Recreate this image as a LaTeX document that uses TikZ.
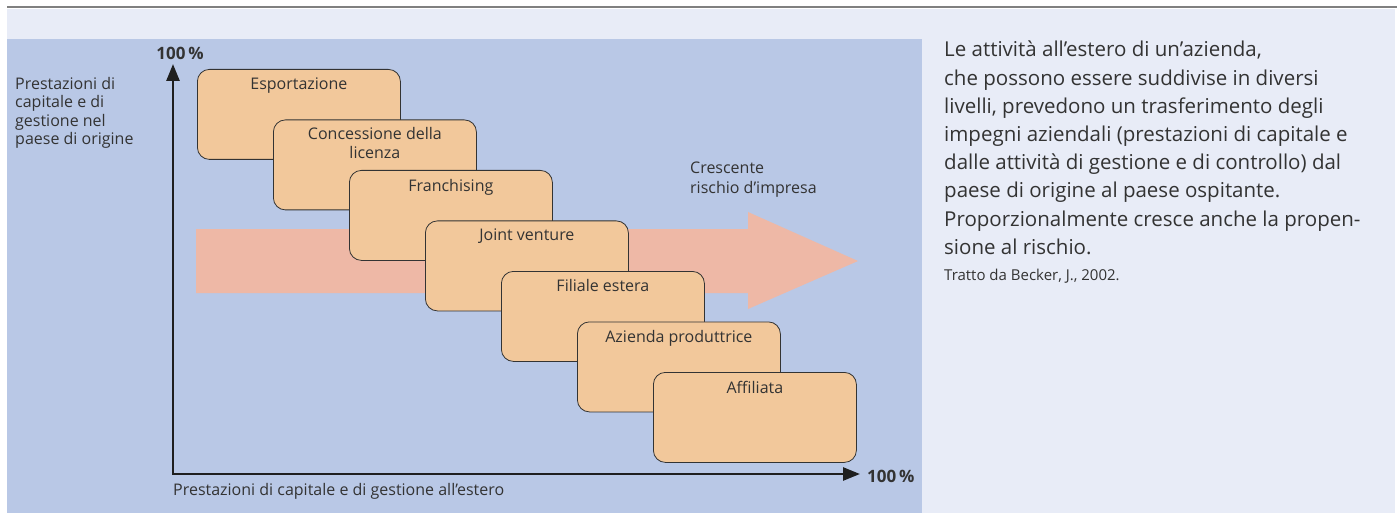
\documentclass[tikz,border=0pt]{standalone}
\usepackage{fontspec}
\setmainfont{Open Sans}
\usetikzlibrary{arrows.meta}

\definecolor{band_blue}{HTML}{E8ECF7}
\definecolor{panel_blue}{HTML}{B9C8E6}
\definecolor{box_fill}{HTML}{F2C89B}
\definecolor{risk_pink}{HTML}{EEB8A6}
\definecolor{text_gray}{HTML}{333333}

\begin{document}
\begin{tikzpicture}[
  x=1pt, y=-1pt,
  stage_box/.style={draw=text_gray, line width=0.8pt, fill=box_fill, rounded corners=12pt, minimum width=203pt, minimum height=90pt, inner sep=0pt, anchor=north west},
  stage_text/.style={text=text_gray, font=\fontsize{16}{19}\selectfont, align=center, inner sep=0pt, anchor=north},
  axis_line/.style={line width=2.6pt, draw=black!88, {Triangle[length=17pt,width=13pt]}-{Triangle[length=17pt,width=13pt]}},
  axis_mark/.style={text=text_gray, font=\bfseries\fontsize{17}{19}\selectfont, inner sep=0pt},
  side_text/.style={text=text_gray, font=\fontsize{16}{18.5}\selectfont, align=left, inner sep=0pt},
  desc_text/.style={text=text_gray, font=\fontsize{20.5}{28.2}\selectfont, align=left, inner sep=0pt},
]
\useasboundingbox (0,0) rectangle (1397,513);
% background
\fill[band_blue] (7,9) rectangle (1395,513);
\fill[panel_blue] (7,39) rectangle (922,513);
\draw[gray, line width=1.5pt] (7,7) -- (1397,7);

% risk arrow
\fill[risk_pink] (196,229) -- (748,229) -- (748,212) -- (858,261) -- (748,309) -- (748,293) -- (196,293) -- cycle;

% axes
\coordinate (origin) at (173,474);
\coordinate (y_end) at (173,64);
\coordinate (x_end) at (860,474);
\draw[axis_line] (y_end) -- (origin) -- (x_end);
\draw (180,60) node (y_max) [axis_mark, anchor=base] {100\,\%};
\draw (867,482) node (x_max) [axis_mark, anchor=base west] {100\,\%};

% stages
\draw (197,69) node (export) [stage_box] {};
\draw (export.north) ++(0,9) node [stage_text] {Esportazione};
\draw (273,119.5) node (licence) [stage_box] {};
\draw (licence.north) ++(0,8) node [stage_text] {Concessione della\\licenza};
\draw (349,170) node (franchise) [stage_box] {};
\draw (franchise.north) ++(0,9) node [stage_text] {Franchising};
\draw (425,220.5) node (joint) [stage_box] {};
\draw (joint.north) ++(0,8) node [stage_text] {Joint venture};
\draw (501,271) node (branch) [stage_box] {};
\draw (branch.north) ++(0,8) node [stage_text] {Filiale estera};
\draw (577,321.5) node (plant) [stage_box] {};
\draw (plant.north) ++(0,9) node [stage_text] {Azienda produttrice};
\draw (653,372) node (affiliate) [stage_box] {};
\draw (affiliate.north) ++(0,9) node [stage_text] {Affiliata};

% labels
\draw (15,77) node (home_label) [side_text, anchor=north west] {Prestazioni di\\capitale e di\\gestione nel\\paese di origine};
\draw (173,495) node (abroad_label) [side_text, anchor=base west] {Prestazioni di capitale e di gestione all’estero};
\draw (690,162) node (risk_label) [side_text, anchor=north west, font=\fontsize{16}{20}\selectfont] {Crescente\\rischio d’impresa};

% description
\draw (944,41) node (desc) [desc_text, anchor=north west] {Le attività all’estero di un’azienda,\\che possono essere suddivise in diversi\\livelli, prevedono un trasferimento degli\\impegni aziendali (prestazioni di capitale e\\dalle attività di gestione e di controllo) dal\\paese di origine al paese ospitante.\\Proporzionalmente cresce anche la propen-\\sione al rischio.};
\draw (944,280) node (source) [text=text_gray, font=\fontsize{15}{18}\selectfont, inner sep=0pt, anchor=base west] {Tratto da Becker, J., 2002.};
\end{tikzpicture}
\end{document}
